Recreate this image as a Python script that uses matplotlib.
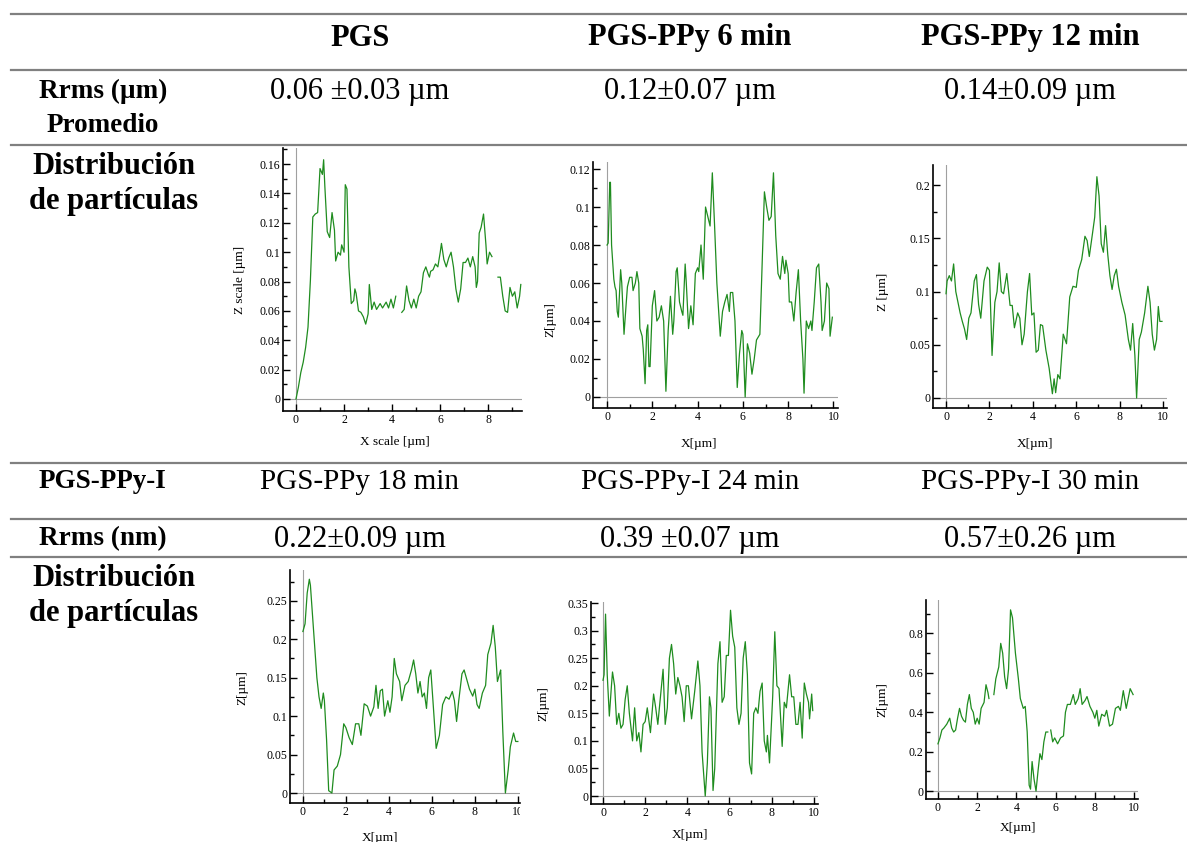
import numpy as np
import matplotlib
matplotlib.use("Agg")
import matplotlib.pyplot as plt
from matplotlib.ticker import MultipleLocator
from matplotlib.transforms import Bbox, TransformedBbox

plt.rcParams['font.family'] = ['Liberation Serif', 'DejaVu Serif']

W, H = 1187, 842

# ---- table text ----
header = ["PGS", "PGS-PPy 6 min", "PGS-PPy 12 min"]
rrms_um = ["0.06 \u00b10.03 \u00b5m", "0.12\u00b10.07 \u00b5m", "0.14\u00b10.09 \u00b5m"]
header2 = ["PGS-PPy 18 min", "PGS-PPy-I 24 min", "PGS-PPy-I 30 min"]
rrms_nm = ["0.22\u00b10.09 \u00b5m", "0.39 \u00b10.07 \u00b5m", "0.57\u00b10.26 \u00b5m"]

# ---- profiles (x in um, z in um), NaN = gap in the trace ----
x_pgs = [0, 0.1, 0.2, 0.3, 0.4, 0.5, 0.6, 0.7, 0.8, 0.9, 1.0, 1.1, 1.15, 1.2, 1.3, 1.4, 1.5, 1.6, 1.65, 1.75,
         1.85, 1.9, 2.0, 2.05, 2.12, 2.2, 2.3, 2.4, 2.45, 2.5, 2.6, 2.7, 2.8, 2.9, 3.0, 3.05, 3.15, 3.25, 3.35,
         3.5, 3.6, 3.75, 3.85, 3.95, 4.05, 4.15, 4.3, 4.4, 4.5, 4.6, 4.7, 4.8, 4.9, 5.0, 5.1, 5.2, 5.3, 5.4,
         5.5, 5.55, 5.6, 5.7, 5.8, 5.9, 6.0, 6.05, 6.15, 6.25, 6.35, 6.45, 6.55, 6.65, 6.75, 6.85, 6.95, 7.05,
         7.15, 7.25, 7.35, 7.45, 7.5, 7.55, 7.62, 7.7, 7.8, 7.9, 7.95, 8.05, 8.15, 8.3, 8.4, 8.5, 8.6, 8.7,
         8.8, 8.9, 9.0, 9.1, 9.2, 9.3, 9.35]
z_pgs = [0, 0.008, 0.018, 0.025, 0.035, 0.049, 0.081, 0.124, 0.126, 0.127, 0.157, 0.153, 0.163, 0.145, 0.114,
         0.11, 0.127, 0.115, 0.094, 0.1, 0.098, 0.105, 0.1, 0.146, 0.143, 0.09, 0.065, 0.067, 0.075, 0.072,
         0.06, 0.059, 0.056, 0.051, 0.058, 0.078, 0.061, 0.066, 0.061, 0.065, 0.062, 0.066, 0.062, 0.068,
         0.062, 0.07, np.nan, 0.059, 0.061, 0.077, 0.067, 0.062, 0.068, 0.062, 0.07, 0.073, 0.086, 0.09,
         0.085, 0.083, 0.087, 0.088, 0.092, 0.09, 0.1, 0.106, 0.095, 0.09, 0.096, 0.1, 0.09, 0.075, 0.066,
         0.075, 0.093, 0.093, 0.096, 0.09, 0.097, 0.09, 0.076, 0.08, 0.113, 0.117, 0.126, 0.105, 0.092, 0.1,
         0.097, np.nan, 0.083, 0.083, 0.07, 0.06, 0.059, 0.076, 0.07, 0.073, 0.062, 0.07, 0.078]

x_6 = [0.0, 0.05, 0.12, 0.15, 0.2, 0.3, 0.35, 0.4, 0.45, 0.5, 0.6, 0.65, 0.75, 0.85, 0.9, 1.0, 1.1, 1.15, 1.25,
       1.32, 1.4, 1.45, 1.55, 1.6, 1.68, 1.75, 1.8, 1.85, 1.9, 2.0, 2.1, 2.2, 2.3, 2.4, 2.5, 2.6, 2.7, 2.8,
       2.9, 2.95, 3.05, 3.1, 3.2, 3.3, 3.35, 3.45, 3.5, 3.6, 3.7, 3.8, 3.9, 4.0, 4.05, 4.15, 4.25, 4.35, 4.45,
       4.55, 4.65, 4.75, 4.85, 5.0, 5.1, 5.2, 5.3, 5.4, 5.45, 5.55, 5.65, 5.75, 5.85, 5.95, 6.0, 6.1, 6.2,
       6.3, 6.4, 6.5, 6.6, 6.75, 6.85, 6.95, 7.05, 7.15, 7.25, 7.35, 7.45, 7.55, 7.65, 7.75, 7.85, 7.9, 8.0,
       8.05, 8.15, 8.25, 8.35, 8.45, 8.55, 8.65, 8.7, 8.8, 8.9, 9.0, 9.05, 9.15, 9.25, 9.35, 9.45, 9.5, 9.6,
       9.7, 9.8, 9.85, 9.95]
z_6 = [0.08, 0.081, 0.113, 0.113, 0.08, 0.062, 0.058, 0.056, 0.045, 0.042, 0.067, 0.06, 0.033, 0.05, 0.058,
       0.063, 0.063, 0.056, 0.06, 0.066, 0.06, 0.036, 0.032, 0.025, 0.007, 0.035, 0.038, 0.016, 0.016, 0.048,
       0.056, 0.04, 0.042, 0.048, 0.04, 0.003, 0.035, 0.053, 0.033, 0.04, 0.066, 0.068, 0.05, 0.045, 0.043,
       0.07, 0.06, 0.036, 0.048, 0.038, 0.065, 0.068, 0.066, 0.08, 0.062, 0.1, 0.095, 0.09, 0.118, 0.09, 0.06,
       0.032, 0.045, 0.05, 0.054, 0.045, 0.055, 0.055, 0.04, 0.005, 0.023, 0.035, 0.033, 0.0, 0.028, 0.023,
       0.012, 0.02, 0.03, 0.033, 0.07, 0.108, 0.1, 0.093, 0.095, 0.118, 0.085, 0.065, 0.062, 0.074, 0.065,
       0.072, 0.065, 0.05, 0.05, 0.04, 0.055, 0.067, 0.04, 0.02, 0.002, 0.04, 0.036, 0.04, 0.035, 0.05, 0.068,
       0.07, 0.05, 0.035, 0.04, 0.06, 0.057, 0.032, 0.042]

x_12 = [0.0, 0.05, 0.15, 0.25, 0.35, 0.45, 0.55, 0.65, 0.75, 0.85, 0.95, 1.05, 1.15, 1.3, 1.4, 1.5, 1.6, 1.75,
        1.9, 2.0, 2.12, 2.25, 2.35, 2.45, 2.55, 2.65, 2.8, 2.95, 3.05, 3.15, 3.3, 3.4, 3.5, 3.6, 3.75, 3.85,
        3.95, 4.05, 4.15, 4.25, 4.35, 4.45, 4.6, 4.75, 4.9, 4.98, 5.05, 5.15, 5.25, 5.4, 5.55, 5.7, 5.85, 6.0,
        6.1, 6.25, 6.4, 6.5, 6.6, 6.75, 6.85, 6.95, 7.05, 7.15, 7.25, 7.35, 7.45, 7.55, 7.65, 7.75, 7.85,
        7.95, 8.1, 8.25, 8.4, 8.5, 8.6, 8.7, 8.78, 8.9, 9.0, 9.15, 9.3, 9.4, 9.5, 9.6, 9.7, 9.78, 9.85, 9.95]
z_12 = [0.098, 0.11, 0.115, 0.11, 0.126, 0.1, 0.09, 0.08, 0.072, 0.065, 0.055, 0.075, 0.08, 0.11, 0.116,
        0.088, 0.075, 0.11, 0.123, 0.12, 0.04, 0.09, 0.1, 0.127, 0.1, 0.098, 0.117, 0.087, 0.087, 0.066, 0.08,
        0.075, 0.05, 0.06, 0.1, 0.117, 0.078, 0.08, 0.043, 0.045, 0.069, 0.068, 0.045, 0.028, 0.004, 0.018,
        0.005, 0.022, 0.018, 0.06, 0.051, 0.095, 0.105, 0.104, 0.12, 0.13, 0.152, 0.148, 0.133, 0.155, 0.17,
        0.208, 0.19, 0.145, 0.137, 0.162, 0.135, 0.115, 0.102, 0.115, 0.121, 0.105, 0.09, 0.078, 0.055, 0.045,
        0.07, 0.04, 0.0, 0.055, 0.062, 0.08, 0.105, 0.09, 0.06, 0.045, 0.055, 0.086, 0.072, 0.072]

x_18 = [0.0, 0.1, 0.2, 0.3, 0.35, 0.45, 0.55, 0.65, 0.75, 0.85, 0.95, 1.0, 1.1, 1.2, 1.35, 1.45, 1.6, 1.75,
        1.9, 2.0, 2.15, 2.3, 2.45, 2.6, 2.7, 2.85, 3.0, 3.15, 3.3, 3.4, 3.5, 3.6, 3.7, 3.8, 3.95, 4.05, 4.15,
        4.25, 4.35, 4.5, 4.6, 4.75, 4.9, 5.05, 5.15, 5.25, 5.35, 5.45, 5.55, 5.65, 5.75, 5.85, 5.95, 6.05,
        6.2, 6.35, 6.5, 6.65, 6.8, 6.95, 7.05, 7.15, 7.25, 7.4, 7.5, 7.65, 7.75, 7.9, 8.0, 8.1, 8.2, 8.35,
        8.5, 8.6, 8.75, 8.85, 8.95, 9.05, 9.15, 9.2, 9.3, 9.42, 9.55, 9.65, 9.8, 9.9, 10.0]
z_18 = [0.21, 0.22, 0.26, 0.278, 0.27, 0.23, 0.19, 0.15, 0.125, 0.11, 0.13, 0.12, 0.07, 0.003, 0.0, 0.03,
        0.035, 0.05, 0.09, 0.085, 0.072, 0.063, 0.09, 0.09, 0.075, 0.116, 0.113, 0.1, 0.112, 0.14, 0.11,
        0.133, 0.135, 0.1, 0.12, 0.105, 0.125, 0.175, 0.155, 0.145, 0.12, 0.14, 0.145, 0.16, 0.173, 0.155,
        0.13, 0.145, 0.125, 0.13, 0.11, 0.15, 0.16, 0.12, 0.058, 0.075, 0.115, 0.125, 0.122, 0.132, 0.12,
        0.093, 0.12, 0.155, 0.16, 0.145, 0.135, 0.126, 0.135, 0.115, 0.11, 0.13, 0.14, 0.18, 0.195, 0.218,
        0.19, 0.145, 0.155, 0.16, 0.08, 0.0, 0.03, 0.06, 0.078, 0.067, 0.067]

x_24 = [0.0, 0.05, 0.12, 0.2, 0.3, 0.4, 0.45, 0.55, 0.65, 0.75, 0.85, 0.95, 1.05, 1.15, 1.25, 1.4, 1.5, 1.6,
        1.7, 1.8, 1.9, 2.0, 2.1, 2.25, 2.4, 2.5, 2.6, 2.75, 2.85, 2.95, 3.05, 3.15, 3.25, 3.35, 3.45, 3.55,
        3.65, 3.75, 3.85, 3.95, 4.05, 4.2, 4.35, 4.5, 4.6, 4.7, 4.85, 4.95, 5.05, 5.12, 5.22, 5.3, 5.45, 5.55,
        5.65, 5.75, 5.85, 5.95, 6.05, 6.15, 6.25, 6.35, 6.45, 6.55, 6.65, 6.75, 6.85, 6.95, 7.05, 7.15, 7.25,
        7.35, 7.45, 7.55, 7.65, 7.75, 7.8, 7.9, 8.05, 8.15, 8.25, 8.35, 8.5, 8.6, 8.7, 8.85, 8.95, 9.05, 9.15,
        9.25, 9.35, 9.45, 9.55, 9.65, 9.75, 9.8, 9.9, 9.95]
z_24 = [0.21, 0.22, 0.33, 0.22, 0.145, 0.2, 0.225, 0.2, 0.13, 0.15, 0.123, 0.13, 0.175, 0.2, 0.15, 0.1, 0.16,
        0.1, 0.115, 0.08, 0.13, 0.135, 0.16, 0.115, 0.185, 0.16, 0.13, 0.19, 0.23, 0.13, 0.16, 0.25, 0.275,
        0.24, 0.185, 0.215, 0.2, 0.18, 0.135, 0.2, 0.2, 0.14, 0.19, 0.245, 0.2, 0.08, 0.0, 0.06, 0.18, 0.16,
        0.01, 0.05, 0.24, 0.28, 0.17, 0.18, 0.255, 0.255, 0.337, 0.29, 0.27, 0.16, 0.13, 0.15, 0.25, 0.28,
        0.22, 0.06, 0.04, 0.15, 0.16, 0.15, 0.19, 0.205, 0.1, 0.08, 0.11, 0.06, 0.18, 0.298, 0.2, 0.195, 0.09,
        0.17, 0.16, 0.22, 0.18, 0.18, 0.13, 0.13, 0.17, 0.105, 0.205, 0.185, 0.17, 0.14, 0.185, 0.155]

x_30 = [0.0, 0.1, 0.2, 0.3, 0.45, 0.6, 0.7, 0.8, 0.9, 1.0, 1.1, 1.2, 1.3, 1.4, 1.5, 1.6, 1.7, 1.8, 1.9, 2.0,
        2.1, 2.2, 2.35, 2.45, 2.55, 2.6, 2.72, 2.85, 2.95, 3.1, 3.2, 3.3, 3.4, 3.5, 3.6, 3.7, 3.8, 3.95, 4.1,
        4.2, 4.35, 4.45, 4.55, 4.65, 4.72, 4.8, 4.9, 5.0, 5.1, 5.2, 5.3, 5.4, 5.5, 5.6, 5.68, 5.75, 5.85,
        5.95, 6.1, 6.25, 6.4, 6.5, 6.6, 6.75, 6.9, 7.0, 7.15, 7.25, 7.35, 7.5, 7.6, 7.75, 7.9, 8.0, 8.1, 8.2,
        8.35, 8.5, 8.6, 8.75, 8.9, 9.05, 9.2, 9.3, 9.45, 9.6, 9.7, 9.8, 9.95]
z_30 = [0.24, 0.27, 0.31, 0.32, 0.34, 0.37, 0.32, 0.3, 0.31, 0.37, 0.42, 0.38, 0.36, 0.35, 0.44, 0.49, 0.42,
        0.4, 0.34, 0.37, 0.34, 0.42, 0.45, 0.54, 0.5, 0.47, np.nan, 0.49, 0.57, 0.63, 0.75, 0.7, 0.58, 0.52,
        0.62, 0.92, 0.88, 0.7, 0.57, 0.47, 0.42, 0.43, 0.3, 0.03, 0.01, 0.15, 0.06, 0.0, 0.1, 0.19, 0.16,
        0.25, 0.3, 0.3, np.nan, 0.31, 0.25, 0.27, 0.24, 0.27, 0.28, 0.4, 0.44, 0.44, 0.49, 0.44, 0.47, 0.52,
        0.44, 0.46, 0.48, 0.43, 0.4, 0.37, 0.41, 0.33, 0.39, 0.38, 0.41, 0.33, 0.34, 0.42, 0.43, 0.41, 0.51,
        0.42, 0.47, 0.52, 0.49]

fig = plt.figure(figsize=(W / 100, H / 100), dpi=100)

# background axes in pixel coordinates for table rules and text
bg = fig.add_axes([0, 0, 1, 1])
bg.set_xlim(0, W)
bg.set_ylim(H, 0)
bg.axis('off')

for yl in [14, 70, 145, 463, 519, 557]:
    bg.plot([11, W], [yl, yl], color='#808080', lw=1.6)

col_x = [360, 690, 1030]
fs = 22      # cell text
fs_lab = 19.5  # short row labels
for cx, t in zip(col_x, header):
    bg.text(cx, 38, t, ha='center', va='center', fontsize=fs, fontweight='bold')
for cx, t in zip(col_x, rrms_um):
    bg.text(cx, 91, t, ha='center', va='center', fontsize=fs)
for cx, t in zip(col_x, header2):
    bg.text(cx, 482, t, ha='center', va='center', fontsize=21)
for cx, t in zip(col_x, rrms_nm):
    bg.text(cx, 539, t, ha='center', va='center', fontsize=fs)

bg.text(103, 91, "Rrms (\u00b5m)", ha='center', va='center', fontsize=fs_lab, fontweight='bold')
bg.text(103, 125, "Promedio", ha='center', va='center', fontsize=fs_lab, fontweight='bold')
bg.text(102, 482, "PGS-PPy-I", ha='center', va='center', fontsize=fs_lab, fontweight='bold')
bg.text(103, 539, "Rrms (nm)", ha='center', va='center', fontsize=fs_lab, fontweight='bold')
for y0 in [166, 578]:
    bg.text(114, y0, "Distribución", ha='center', va='center', fontsize=fs, fontweight='bold')
    bg.text(114, y0 + 35, "de partículas", ha='center', va='center', fontsize=fs, fontweight='bold')


def profile(x, z, box, xlim, ylim, ymaj, ymin, xlab, ylab, xlab_pos, ylab_pos):
    left, right, top, bottom = box
    ax = fig.add_axes([left / W, 1 - bottom / H, (right - left) / W, (bottom - top) / H])
    ax.axhline(0, color='#a0a0a0', lw=0.8, zorder=1)
    ax.axvline(0, color='#a0a0a0', lw=0.8, zorder=1)
    ax.plot(x, z, color='#1f8c1f', lw=0.9, zorder=2)
    ax.set_xlim(*xlim)
    ax.set_ylim(*ylim)
    ax.spines['top'].set_visible(False)
    ax.spines['right'].set_visible(False)
    ax.spines['left'].set_linewidth(1.2)
    ax.spines['bottom'].set_linewidth(1.2)
    ax.xaxis.set_major_locator(MultipleLocator(2))
    ax.xaxis.set_minor_locator(MultipleLocator(1))
    ax.yaxis.set_major_locator(MultipleLocator(ymaj))
    ax.yaxis.set_minor_locator(MultipleLocator(ymin))
    ax.tick_params(which='both', direction='in', labelsize=8.5, pad=2, width=1)
    ax.tick_params(which='major', length=5)
    ax.tick_params(which='minor', length=3)
    ax.yaxis.set_major_formatter(plt.FuncFormatter(lambda v, p: ('%g' % round(v, 4))))
    ax.patch.set_alpha(0)
    bg.text(xlab_pos[0], xlab_pos[1], xlab, ha='center', va='center', fontsize=9.5)
    bg.text(ylab_pos[0], ylab_pos[1], ylab, ha='center', va='center', fontsize=9.5, rotation=90)
    return ax


profile(x_pgs, z_pgs, (283, 522, 148, 411), (-0.54, 9.4), (-0.0082, 0.171), 0.02, 0.01,
        "X scale [\u00b5m]", "Z scale [\u00b5m]", (395, 442), (240, 280))
profile(x_6, z_6, (593, 838, 162, 408), (-0.62, 10.2), (-0.0058, 0.1237), 0.02, 0.01,
        "X[\u00b5m]", "Z[\u00b5m]", (699, 444), (550, 320))
profile(x_12, z_12, (933, 1167, 165, 408), (-0.6, 10.18), (-0.0094, 0.219), 0.05, 0.025,
        "X[\u00b5m]", "Z [\u00b5m]", (1035, 444), (883, 292))
ax4 = profile(x_18, z_18, (290, 520, 570, 803), (-0.6, 10.1), (-0.013, 0.29), 0.05, 0.025,
              "X[\u00b5m]", "Z[\u00b5m]", (380, 838), (242, 688))
profile(x_24, z_24, (591, 818, 602, 804), (-0.57, 10.2), (-0.0145, 0.352), 0.05, 0.025,
        "X[\u00b5m]", "Z[\u00b5m]", (690, 835), (543, 704))
profile(x_30, z_30, (926, 1138, 600, 799), (-0.61, 10.2), (-0.04, 0.97), 0.2, 0.1,
        "X[\u00b5m]", "Z[\u00b5m]", (1018, 828), (882, 700))

# the last tick label of the 18 min profile is cut by its cell in the original
fig.canvas.draw()
cell = TransformedBbox(Bbox([[0, 0], [520 / W, 1]]), fig.transFigure)
for lbl in ax4.get_xticklabels():
    lbl.set_clip_box(cell)
    lbl.set_clip_on(True)

fig.savefig("out.png", dpi=100)
